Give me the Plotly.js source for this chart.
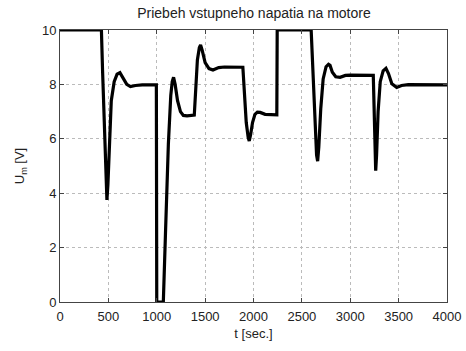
<!DOCTYPE html>
<html>
<head>
<meta charset="utf-8">
<script src="https://cdn.plot.ly/plotly-3.0.1.min.js"></script>
<style>html,body{margin:0;padding:0;background:#fff;}#chart{width:466px;height:351px;}</style>
</head>
<body>
<div id="chart"></div>
<script>
// time [sec.]
const timeSec = [0,428,440,460,475,485,495,510,530,560,590,619,650,690,728,780,850,996,
  1000,1068,1090,1120,1145,1160,1174,1190,1215,1245,1275,1313,1388,1400,1420,1440,1453,1470,1500,1540,1581,1640,1700,1890,
  1905,1925,1945,1956,1970,1990,2015,2040,2069,2120,2241,2245,2596,
  2615,2635,2652,2663,2675,2695,2720,2750,2775,2791,2815,2850,2895,2950,3000,3238,
  3247,3256,3263,3272,3288,3310,3340,3369,3395,3430,3480,3530,3600,4000];
// motor input voltage U_m [V]
const voltage = [10,10,8.5,6,4.5,3.75,4.3,6,7.4,8.1,8.38,8.43,8.25,8.0,7.92,7.96,7.98,7.98,
  0,0,2.5,5.8,7.6,8.1,8.26,8.0,7.4,7.0,6.86,6.84,6.87,7.6,8.9,9.35,9.45,9.25,8.8,8.58,8.53,8.62,8.64,8.63,
  7.6,6.6,6.05,5.92,6.15,6.6,6.9,6.98,6.97,6.9,6.88,10,10,
  8.2,6.3,5.4,5.18,5.7,7.1,8.2,8.65,8.74,8.7,8.45,8.28,8.26,8.33,8.34,8.33,
  7.0,5.6,4.83,5.4,7.0,8.1,8.5,8.59,8.4,8.02,7.89,7.96,7.99,7.98];

const xTicks = [0,500,1000,1500,2000,2500,3000,3500,4000];
const yTicks = [0,2,4,6,8,10];

const FONT = 'Liberation Sans, Arial, sans-serif';
const axisCommon = {
  showline: true, linecolor: '#444', linewidth: 1, mirror: 'ticks',
  ticks: 'inside', ticklen: 4, tickcolor: '#444',
  showgrid: true, gridcolor: '#bbb', griddash: 'dot', gridwidth: 1,
  zeroline: false,
  tickfont: {family: FONT, size: 13, color: '#222'}
};

const trace = {
  x: timeSec, y: voltage, type: 'scatter', mode: 'lines',
  line: {color: '#000', width: 3.2}, hoverinfo: 'none', cliponaxis: true
};

const layout = {
  width: 466, height: 351,
  margin: {l: 60, r: 19, t: 30, b: 49},
  paper_bgcolor: '#fff', plot_bgcolor: '#fff',
  showlegend: false,
  title: {text: 'Priebeh vstupneho napatia na motore', x: 0.545, xanchor: 'center', y: 0.962, yanchor: 'middle',
    font: {family: FONT, size: 14, color: '#222'}},
  xaxis: Object.assign({}, axisCommon, {
    range: [0, 4000], tickvals: xTicks, ticktext: xTicks.map(String), ticklabelstandoff: 2,
    title: {text: 't [sec.]', standoff: 6, font: {family: FONT, size: 13, color: '#222'}}
  }),
  yaxis: Object.assign({}, axisCommon, {
    range: [0, 10], tickvals: yTicks, ticktext: yTicks.map(String),
    title: {text: 'U<sub>m</sub> [V]', standoff: 14, font: {family: FONT, size: 13, color: '#222'}}
  })
};

Plotly.newPlot('chart', [trace], layout, {staticPlot: true, displayModeBar: false});
</script>
</body>
</html>
